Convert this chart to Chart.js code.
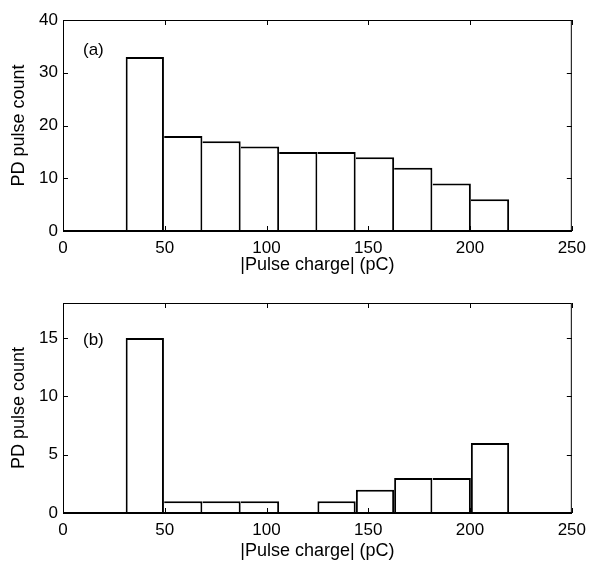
<!DOCTYPE html>
<html>
<head>
<meta charset="utf-8">
<script src="https://cdn.jsdelivr.net/npm/chart.js@4"></script>
<style>
  body { margin: 0; background: #fff; }
  canvas { display: block; }
</style>
</head>
<body>
<canvas id="chartA" width="593" height="281"></canvas>
<canvas id="chartB" width="593" height="281"></canvas>
<script>
// bin centres of the histogram (pC)
const binCenters = [40.2, 59.1, 77.9, 96.8, 115.6, 134.4, 153.3, 172.1, 191.0, 209.8];
const countsA = [33, 18, 17, 16, 15, 15, 14, 12, 9, 6];
const countsB = [15, 1, 1, 1, 0, 1, 2, 3, 3, 6];
const xTicks = [0, 50, 100, 150, 200, 250];
const yTicksA = [0, 10, 20, 30, 40];
const yTicksB = [0, 5, 10, 15];

const FONT = "'Liberation Sans', Arial, sans-serif";

// matlab style frame with inward ticks + panel label
const framePlugin = {
  id: 'frame',
  afterDatasetsDraw(chart, args, opts) {
    const ctx = chart.ctx;
    const a = chart.chartArea;
    const xs = chart.scales.x, ys = chart.scales.y;
    const tl = 5;
    ctx.save();
    ctx.strokeStyle = '#000';
    ctx.lineWidth = 1;
    ctx.strokeRect(a.left + 0.5, a.top + 0.5, a.right - a.left - 1, a.bottom - a.top);
    ctx.beginPath();
    xs.ticks.forEach(t => {
      const px = Math.round(xs.getPixelForValue(t.value)) + 0.5;
      ctx.moveTo(px, a.top); ctx.lineTo(px, a.top + tl);
      ctx.moveTo(px, a.bottom); ctx.lineTo(px, a.bottom - tl);
    });
    ys.ticks.forEach(t => {
      const py = Math.round(ys.getPixelForValue(t.value)) + 0.5;
      ctx.moveTo(a.left, py); ctx.lineTo(a.left + tl, py);
      ctx.moveTo(a.right, py); ctx.lineTo(a.right - tl, py);
    });
    ctx.stroke();
    // baseline
    ctx.lineWidth = 2;
    ctx.beginPath();
    ctx.moveTo(a.left, a.bottom);
    ctx.lineTo(a.right, a.bottom);
    ctx.stroke();
    // panel label
    ctx.fillStyle = '#000';
    ctx.font = '17px ' + FONT;
    ctx.textAlign = 'left';
    ctx.textBaseline = 'middle';
    ctx.fillText(opts.label, a.left + 20, a.top + opts.labelDy);
    ctx.restore();
  }
};

function makeChart(id, counts, yMax, yTicks, label, labelDy, padTop, axisH, titlePad) {
  const points = binCenters.map((x, i) => ({ x: x, y: counts[i] }));
  return new Chart(document.getElementById(id), {
    type: 'bar',
    data: {
      datasets: [{
        data: points,
        backgroundColor: '#fff',
        borderColor: '#000',
        borderSkipped: false,
        borderWidth: function (c) {
          const i = c.dataIndex;
          const prev = i > 0 ? counts[i - 1] : 0;
          return { top: 2, right: 2, bottom: 0, left: prev < counts[i] ? 2 : 0 };
        },
        barPercentage: 1,
        categoryPercentage: 1,
        inflateAmount: 0
      }]
    },
    options: {
      responsive: false,
      animation: false,
      layout: { padding: { top: padTop, right: 19, left: 0, bottom: 0 } },
      plugins: {
        legend: { display: false },
        tooltip: { enabled: false },
        frame: { label: label, labelDy: labelDy }
      },
      scales: {
        x: {
          type: 'linear',
          offset: false,
          min: 0, max: 250,
          afterBuildTicks: s => { s.ticks = xTicks.map(v => ({ value: v })); },
          afterFit: s => { s.height = axisH; },
          grid: { display: false, drawTicks: false, offset: false },
          border: { display: false },
          ticks: { color: '#000', font: { size: 17, family: FONT }, padding: 7, maxRotation: 0 },
          title: { display: true, text: '|Pulse charge| (pC)', color: '#000', font: { size: 18, family: FONT }, padding: { top: 0, bottom: titlePad } }
        },
        y: {
          min: 0, max: yMax,
          afterBuildTicks: s => { s.ticks = yTicks.map(v => ({ value: v })); },
          afterFit: s => { s.width = 63; },
          grid: { display: false, drawTicks: false },
          border: { display: false },
          ticks: { color: '#000', font: { size: 17, family: FONT }, padding: 5 },
          title: { display: true, text: 'PD pulse count', color: '#000', font: { size: 18, family: FONT }, padding: { top: 8, bottom: 0 } }
        }
      }
    },
    plugins: [framePlugin]
  });
}

makeChart('chartA', countsA, 40, yTicksA, '(a)', 30, 20, 50, 5);
makeChart('chartB', countsB, 18, yTicksB, '(b)', 37, 22, 49, 0);
</script>
</body>
</html>
